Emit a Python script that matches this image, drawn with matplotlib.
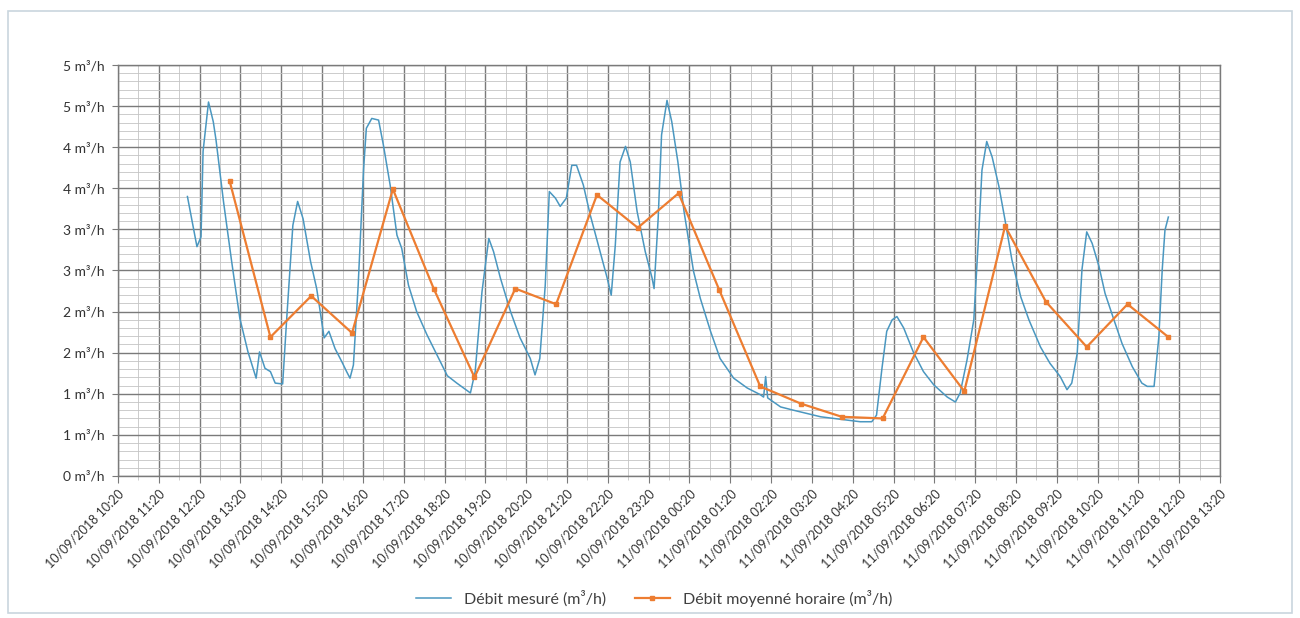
import math
from datetime import datetime, timedelta
import matplotlib
matplotlib.use("Agg")
import matplotlib.pyplot as plt
from matplotlib.ticker import MultipleLocator, FuncFormatter
from matplotlib.patches import Rectangle

plt.rcParams['font.family'] = ['Lato', 'DejaVu Sans']

# Débit mesuré : heures (jour, HH:MM) et valeurs en m3/h
mes_day = [10] * 81 + [11] * 64
mes_time = [
    "12:02", "12:16", "12:22", "12:25", "12:33", "12:40", "12:44", "12:55", "13:07", "13:19",
    "13:31", "13:43", "13:48", "13:56", "14:04", "14:11", "14:22", "14:28", "14:37", "14:44",
    "14:52", "15:03", "15:12", "15:15", "15:23", "15:30", "15:39", "15:49", "15:56", "16:01",
    "16:06", "16:13", "16:21", "16:25", "16:33", "16:43", "16:50", "17:00", "17:10", "17:17",
    "17:27", "17:39", "17:54", "18:09", "18:24", "18:38", "18:58", "19:05", "19:15", "19:25",
    "19:32", "19:42", "19:57", "20:11", "20:26", "20:33", "20:40", "20:48", "20:54", "21:03",
    "21:10", "21:19", "21:27", "21:34", "21:44", "21:54", "22:06", "22:19", "22:25", "22:31",
    "22:38", "22:46", "22:53", "23:03", "23:15", "23:25", "23:28", "23:34", "23:39", "23:47",
    "23:54",
    "00:03", "00:12", "00:26", "00:36", "00:51", "01:05", "01:25", "01:45", "02:04", "02:09",
    "02:12", "02:15", "02:34", "02:53", "03:13", "03:33", "03:52", "04:12", "04:31", "04:48",
    "04:55", "05:03", "05:10", "05:18", "05:25", "05:35", "05:49", "06:04", "06:19", "06:39",
    "06:51", "06:58", "07:08", "07:18", "07:25", "07:30", "07:37", "07:45", "07:55", "08:04",
    "08:14", "08:27", "08:39", "08:56", "09:10", "09:25", "09:35", "09:42", "09:50", "09:57",
    "10:04", "10:12", "10:22", "10:31", "10:44", "10:56", "11:11", "11:25", "11:33", "11:43",
    "11:50", "11:55", "11:59", "12:04",
]
mes_val = [
    3.40, 2.79, 2.91, 3.95, 4.55, 4.31, 4.09, 3.34, 2.61, 1.92,
    1.51, 1.19, 1.51, 1.31, 1.27, 1.13, 1.12, 1.92, 3.05, 3.34,
    3.13, 2.61, 2.28, 2.12, 1.68, 1.76, 1.55, 1.39, 1.27, 1.19,
    1.35, 2.32, 3.74, 4.23, 4.35, 4.33, 4.03, 3.54, 2.93, 2.77,
    2.32, 2.00, 1.72, 1.47, 1.22, 1.13, 1.01, 1.27, 2.24, 2.89,
    2.73, 2.41, 2.00, 1.68, 1.43, 1.23, 1.43, 2.32, 3.46, 3.38,
    3.28, 3.38, 3.78, 3.78, 3.54, 3.18, 2.81, 2.41, 2.20, 2.81,
    3.82, 4.01, 3.82, 3.22, 2.73, 2.41, 2.28, 3.13, 4.15, 4.57,
    4.31,
    3.82, 3.22, 2.49, 2.16, 1.76, 1.43, 1.19, 1.07, 0.99, 0.96,
    1.21, 0.95, 0.84, 0.80, 0.76, 0.72, 0.70, 0.68, 0.66, 0.66,
    0.74, 1.31, 1.76, 1.90, 1.94, 1.80, 1.51, 1.27, 1.11, 0.96,
    0.90, 1.01, 1.41, 1.90, 2.91, 3.72, 4.07, 3.88, 3.52, 3.11,
    2.63, 2.18, 1.90, 1.57, 1.37, 1.21, 1.05, 1.13, 1.49, 2.51,
    2.97, 2.83, 2.55, 2.22, 1.90, 1.61, 1.33, 1.13, 1.09, 1.09,
    1.69, 2.51, 2.99, 3.15,
]

# Débit moyenné horaire
moy_day = [10] * 11 + [11] * 13
moy_time = ["13:04", "14:04", "15:04", "16:04", "17:04", "18:04", "19:04", "20:04",
            "21:04", "22:04", "23:04", "00:04", "01:04", "02:04", "03:04", "04:04",
            "05:04", "06:04", "07:04", "08:04", "09:04", "10:04", "11:04", "12:04"]
moy_val = [3.59, 1.69, 2.19, 1.74, 3.49, 2.28, 1.20, 2.28, 2.09, 3.42, 3.02, 3.44,
           2.26, 1.09, 0.88, 0.72, 0.70, 1.69, 1.03, 3.04, 2.12, 1.57, 2.09, 1.69]

x_start = datetime(2018, 9, 10, 10, 20)
x_end = datetime(2018, 9, 11, 13, 20)


def to_dt(days, times):
    return [datetime.strptime(f"2018-09-{d:02d} {t}", "%Y-%m-%d %H:%M") for d, t in zip(days, times)]


t_mes = to_dt(mes_day, mes_time)
t_moy = to_dt(moy_day, moy_time)

fig = plt.figure(figsize=(13, 6.18), dpi=100)
ax = fig.add_axes([0.0908, 0.2298, 0.8477, 0.6650])

# grille
grid_major = '#7a7a7a'
grid_minor = '#c4c4c4'
ax.set_axisbelow(True)
ax.grid(which='major', color=grid_major, linewidth=1.0)
ax.grid(which='minor', color=grid_minor, linewidth=0.6)

ax.plot(t_mes, mes_val, color='#4a97c0', linewidth=1.1, label='Débit mesuré (m³/h)')
ax.plot(t_moy, moy_val, color='#ed7d31', linewidth=1.6, marker='s', markersize=3,
        label='Débit moyenné horaire (m³/h)')

ax.set_xlim(x_start, x_end)
ax.set_ylim(0, 5)

hours = [x_start + timedelta(hours=i) for i in range(28)]
halves = [x_start + timedelta(minutes=30 + 60 * i) for i in range(27)]
ax.set_xticks(hours)
ax.set_xticks(halves, minor=True)
ax.set_xticklabels([h.strftime("%d/%m/%Y %H:%M") for h in hours], rotation=45,
                   ha='right', rotation_mode='anchor', fontsize=9, color='#333333')

ax.yaxis.set_major_locator(MultipleLocator(0.5))
ax.yaxis.set_minor_locator(MultipleLocator(0.1))
ax.yaxis.set_major_formatter(FuncFormatter(lambda v, p: f"{math.floor(v + 0.5)} m³/h"))
ax.tick_params(axis='y', which='major', labelsize=10, labelcolor='#333333',
               length=4, color=grid_major, pad=6)
ax.tick_params(axis='y', which='minor', length=0)
ax.tick_params(axis='x', which='major', length=5, color=grid_major, pad=3)
ax.tick_params(axis='x', which='minor', length=3, color=grid_minor)

for s in ax.spines.values():
    s.set_color(grid_major)
    s.set_linewidth(1.0)

fig.legend(loc='lower center', bbox_to_anchor=(0.503, -0.005), ncol=2, frameon=False,
           fontsize=11.5, handlelength=2.2, columnspacing=1.8, labelcolor='#404040')

# cadre du graphique
fig.patches.append(Rectangle((0.006, 0.008), 0.988, 0.975, transform=fig.transFigure,
                             fill=False, edgecolor='#c9d6de', linewidth=1.2))

fig.savefig('out.png', dpi=100)
